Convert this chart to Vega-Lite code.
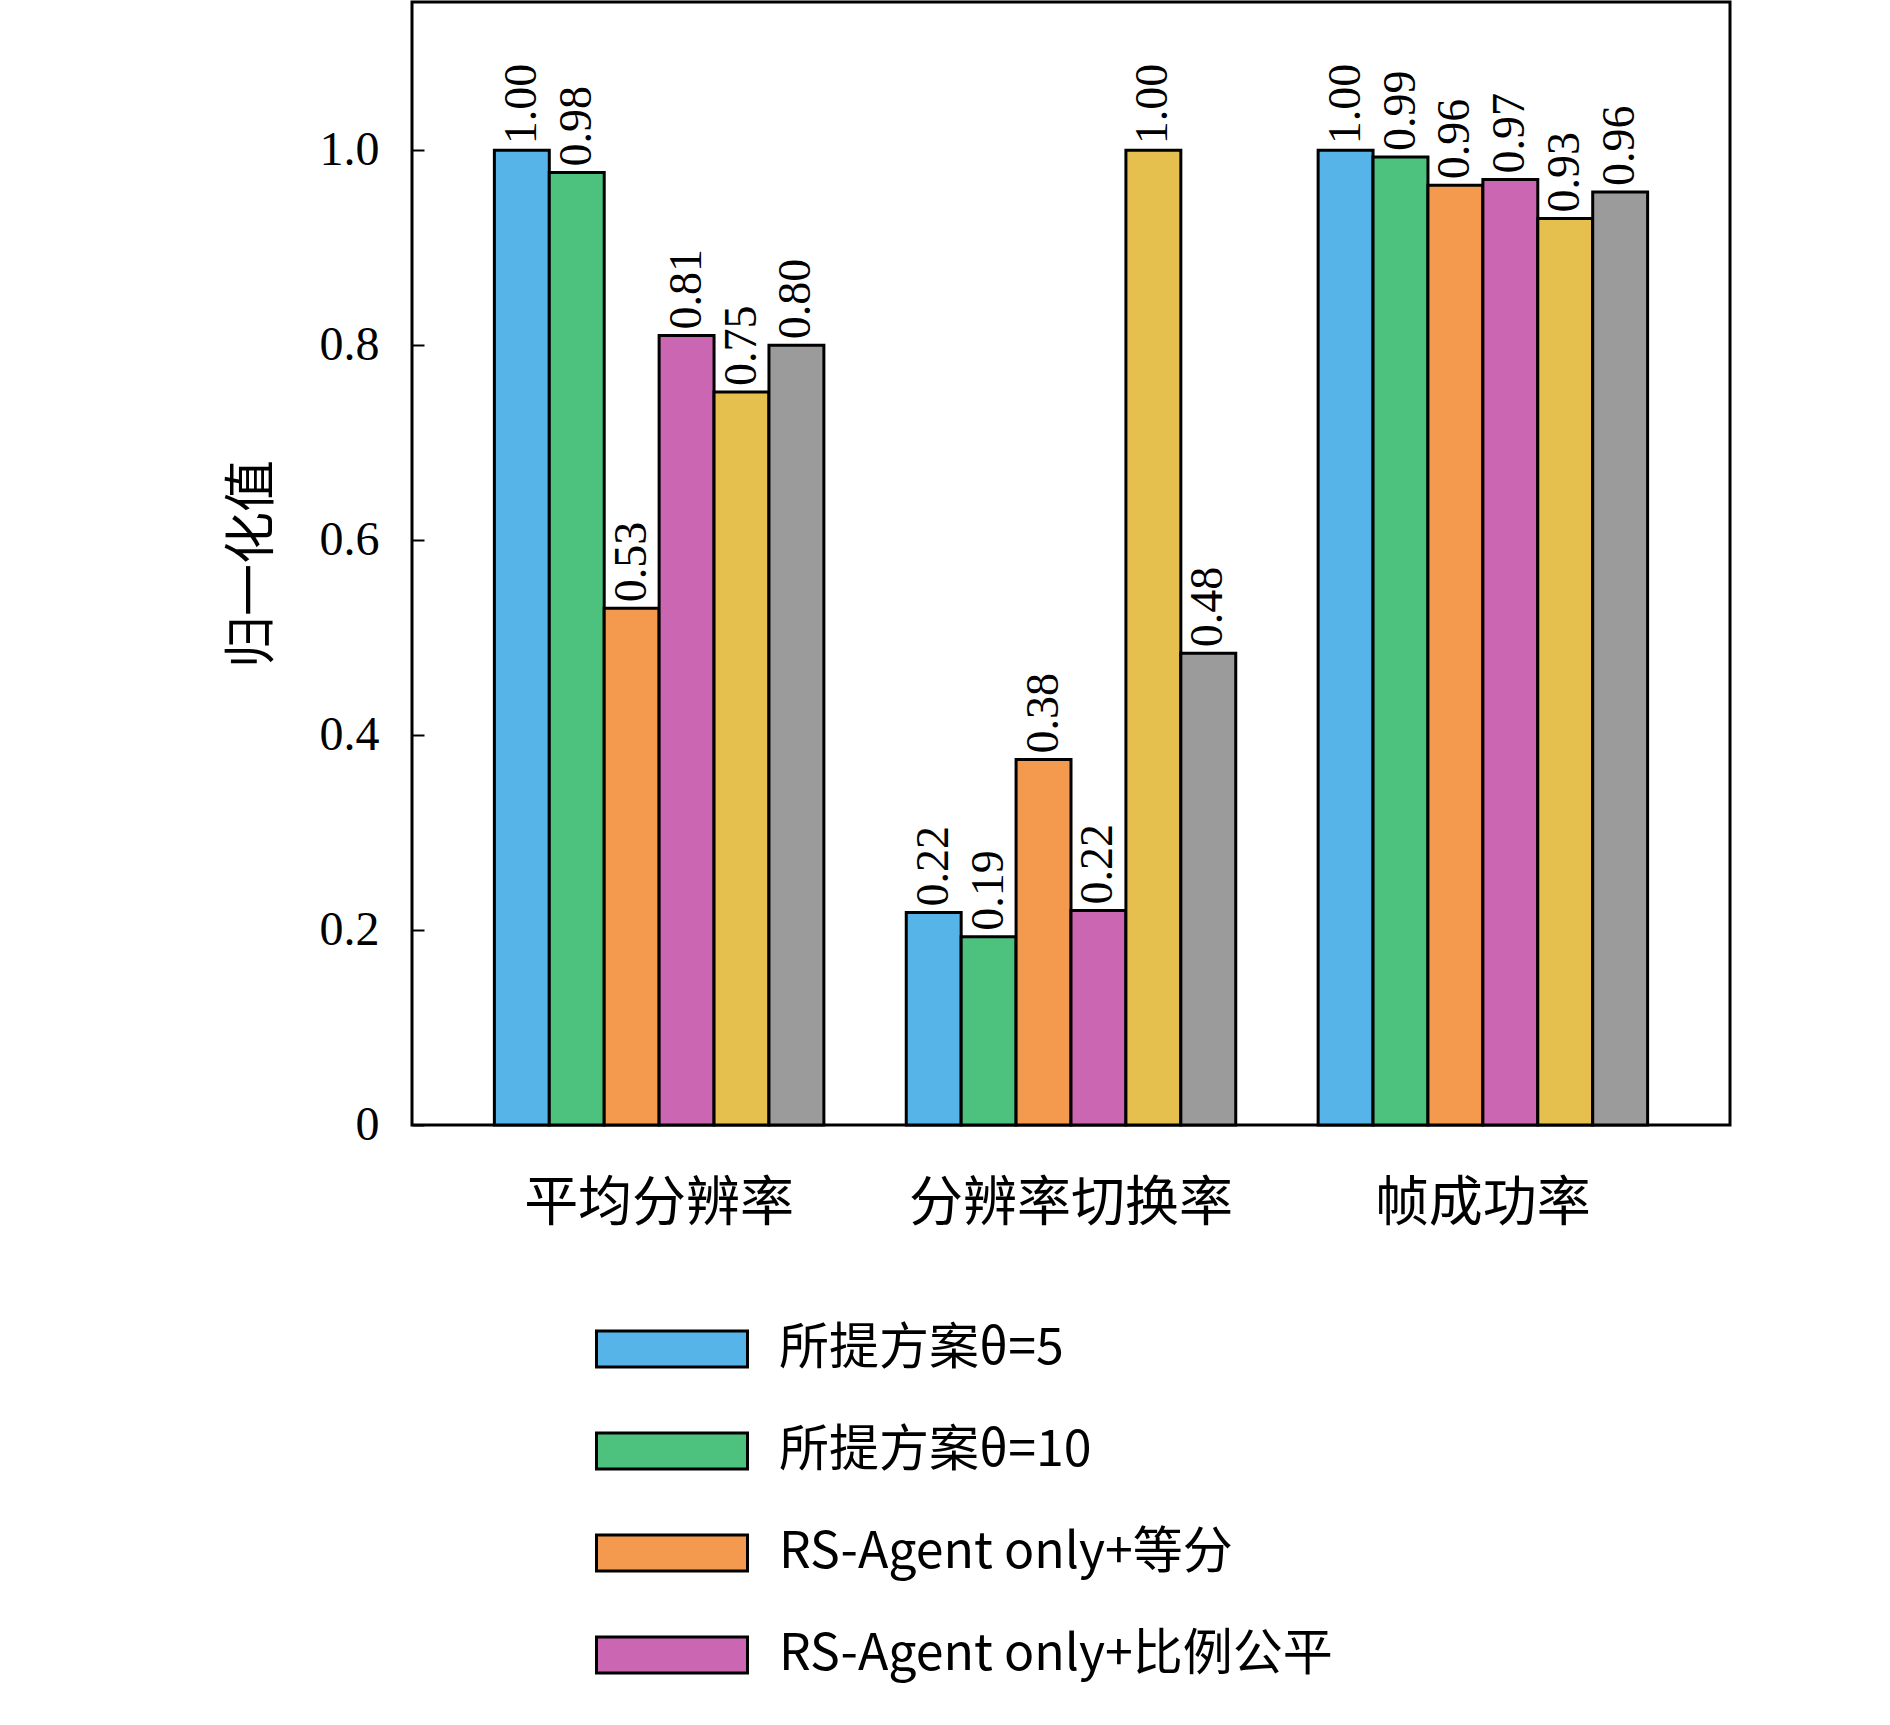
{
  "$schema": "https://vega.github.io/schema/vega-lite/v6.json",
  "autosize": "none",
  "width": 1318,
  "height": 1123,
  "padding": {"left": 412, "top": 2, "right": 160, "bottom": 600},
  "background": "white",
  "config": {
    "view": {"stroke": "black", "strokeWidth": 3},
    "font": "Liberation Serif"
  },
  "data": {
    "values": [
      {"metric": "平均分辨率", "scheme": "所提方案θ=5", "v": 1.0},
      {"metric": "平均分辨率", "scheme": "所提方案θ=10", "v": 0.977},
      {"metric": "平均分辨率", "scheme": "RS-Agent only+等分", "v": 0.53},
      {"metric": "平均分辨率", "scheme": "RS-Agent only+比例公平", "v": 0.81},
      {"metric": "平均分辨率", "scheme": "CC+等分", "v": 0.752},
      {"metric": "平均分辨率", "scheme": "CC+比例公平", "v": 0.80},
      {"metric": "分辨率切换率", "scheme": "所提方案θ=5", "v": 0.218},
      {"metric": "分辨率切换率", "scheme": "所提方案θ=10", "v": 0.193},
      {"metric": "分辨率切换率", "scheme": "RS-Agent only+等分", "v": 0.375},
      {"metric": "分辨率切换率", "scheme": "RS-Agent only+比例公平", "v": 0.22},
      {"metric": "分辨率切换率", "scheme": "CC+等分", "v": 1.0},
      {"metric": "分辨率切换率", "scheme": "CC+比例公平", "v": 0.484},
      {"metric": "帧成功率", "scheme": "所提方案θ=5", "v": 1.0},
      {"metric": "帧成功率", "scheme": "所提方案θ=10", "v": 0.993},
      {"metric": "帧成功率", "scheme": "RS-Agent only+等分", "v": 0.964},
      {"metric": "帧成功率", "scheme": "RS-Agent only+比例公平", "v": 0.97},
      {"metric": "帧成功率", "scheme": "CC+等分", "v": 0.93},
      {"metric": "帧成功率", "scheme": "CC+比例公平", "v": 0.957}
    ]
  },
  "encoding": {
    "x": {
      "field": "metric", "type": "nominal", "sort": null,
      "scale": {"paddingInner": 0.2, "paddingOuter": 0.2},
      "axis": {"title": null, "labelAngle": 0, "ticks": false, "domain": false, "labelLimit": 1000,
        "labelFont": "Noto Sans CJK SC", "labelFontSize": 54, "labelColor": "black", "labelPadding": 52}
    },
    "xOffset": {"field": "scheme", "type": "nominal", "sort": null,
      "scale": {"domain": ["所提方案θ=5", "所提方案θ=10", "RS-Agent only+等分", "RS-Agent only+比例公平", "CC+等分", "CC+比例公平"], "paddingInner": 0, "paddingOuter": 0}},
    "y": {
      "field": "v", "type": "quantitative",
      "scale": {"domain": [0, 1.152], "nice": false, "zero": true},
      "axis": {"title": "归一化值", "titleFont": "Noto Sans CJK SC", "titleFontSize": 52, "titleFontWeight": "normal", "titleColor": "black", "titlePadding": 40,
        "values": [0, 0.2, 0.4, 0.6, 0.8, 1.0], "labelExpr": "datum.value == 0 ? '0' : format(datum.value, '.1f')",
        "labelFontSize": 48, "labelColor": "black", "labelPadding": 45, "grid": false, "domain": false,
        "tickSize": -12, "tickWidth": 2, "tickColor": "black"}
    }
  },
  "layer": [
    {
      "mark": {"type": "bar", "stroke": "black", "strokeWidth": 3},
      "encoding": {
        "color": {"field": "scheme", "type": "nominal",
          "scale": {"domain": ["所提方案θ=5", "所提方案θ=10", "RS-Agent only+等分", "RS-Agent only+比例公平", "CC+等分", "CC+比例公平"],
            "range": ["#56B4E9", "#4DC27F", "#F39A4E", "#CB66B2", "#E6C04E", "#9B9B9B"]},
          "legend": {"title": null, "orient": "none", "legendX": 183, "legendY": 1270, "direction": "vertical",
            "symbolType": "M-1,-0.24H1V0.24H-1Z", "symbolSize": 22800, "symbolStrokeColor": "black", "symbolStrokeWidth": 3, "symbolOpacity": 1,
            "labelFont": "Noto Sans CJK SC", "labelFontSize": 50, "labelColor": "black", "labelLimit": 1000, "rowPadding": -78, "labelOffset": 30}}
      }
    },
    {
      "mark": {"type": "text", "angle": 270, "align": "left", "baseline": "middle", "dx": 6, "fontSize": 46, "font": "Liberation Serif"},
      "encoding": {"text": {"field": "v", "type": "quantitative", "format": ".2f"}}
    }
  ]
}
